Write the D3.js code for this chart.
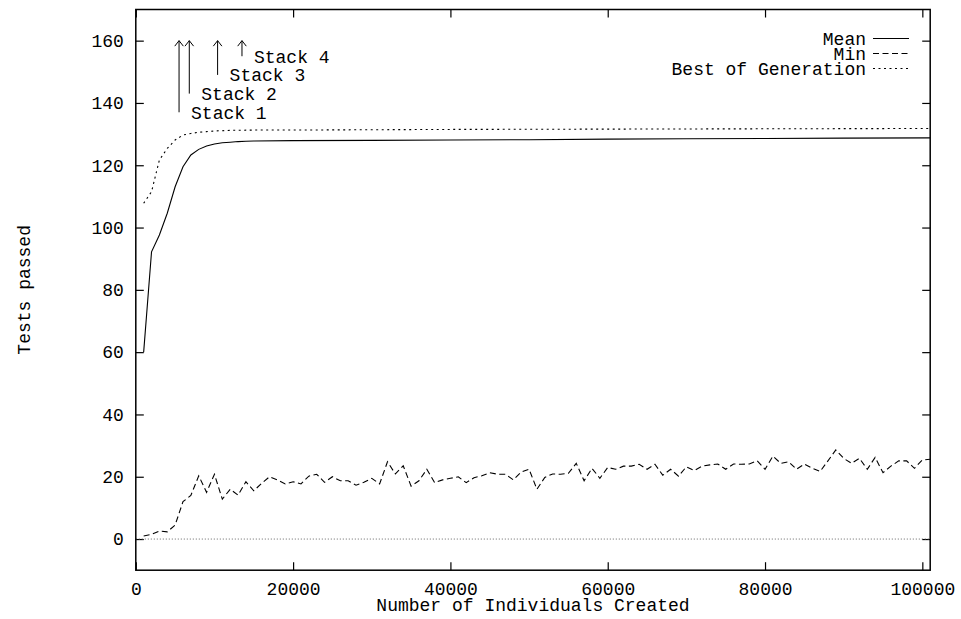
<!DOCTYPE html>
<html>

<head>
    <title>Tests passed</title>
    <meta charset="utf-8">
    <script src="https://d3js.org/d3.v7.min.js"></script>
    <style>
        body { margin: 0; background: white; }
        text { font-family: "Liberation Mono", "DejaVu Sans Mono", monospace; font-size: 18px; fill: #000; }
    </style>
</head>

<body>
    <div id="chart"></div>
</body>

<script>

    // min of population, one point every 1000 individuals (1000 .. 101000)
    let minStart = 1000, minStep = 1000;
    let minValues = [
        1.0, 1.5, 2.6, 2.3, 4.5, 12.0, 14.0, 20.3, 15.0, 20.8,
        12.8, 16.0, 14.1, 18.4, 15.5, 17.9, 20.0, 19.0, 17.7, 18.4,
        17.7, 20.2, 20.8, 18.2, 20.0, 18.7, 18.7, 17.3, 18.2, 19.5,
        17.7, 24.8, 20.9, 23.5, 17.0, 18.7, 22.4, 18.1, 19.0, 19.5,
        20.0, 18.1, 19.7, 20.3, 21.3, 20.8, 20.8, 19.0, 21.5, 22.4,
        16.0, 19.8, 20.9, 20.8, 21.1, 24.3, 18.7, 22.7, 19.5, 23.0,
        22.4, 23.4, 23.4, 24.0, 22.4, 24.0, 20.5, 22.4, 20.2, 23.2,
        22.0, 23.4, 23.8, 24.1, 22.4, 24.1, 24.0, 24.1, 25.1, 22.4,
        26.6, 24.3, 24.8, 22.4, 24.1, 22.7, 21.7, 25.1, 28.6, 25.9,
        24.3, 25.9, 22.4, 26.2, 21.3, 23.4, 25.1, 25.1, 22.7, 25.4,
        25.6
    ];

    let meanX = [1000, 2000, 3000, 4000, 5000, 6000, 7000, 8000, 9000, 10000,
        11000, 12000, 13000, 14000, 15000, 20000, 30000, 40000, 50000, 60000,
        70000, 80000, 90000, 101000];
    let meanValues = [60.0, 92.2, 97.6, 104.6, 113.1, 119.5, 123.3, 125.1, 126.2, 126.8,
        127.2, 127.4, 127.6, 127.7, 127.8, 127.9, 128.0, 128.1, 128.2, 128.4,
        128.5, 128.6, 128.7, 128.8];

    let bestX = [1000, 2000, 3000, 4000, 5000, 6000, 7000, 8000, 9000, 10000,
        12000, 15000, 20000, 30000, 40000, 60000, 80000, 101000];
    let bestValues = [107.8, 111.5, 121.7, 125.4, 128.1, 129.7, 130.2, 130.6, 130.8, 131.0,
        131.2, 131.3, 131.3, 131.4, 131.5, 131.6, 131.7, 131.8];

    // stack markers: arrow from tail up to 160
    let stackNames = ["Stack 1", "Stack 2", "Stack 3", "Stack 4"];
    let stackX = [5500, 6800, 10400, 13500];
    let stackTail = [137, 143, 149, 155];
    let arrowTop = 160;

    let xTicks = [0, 20000, 40000, 60000, 80000, 100000];
    let yTicks = [0, 20, 40, 60, 80, 100, 120, 140, 160];

    let legendNames = ["Mean", "Min", "Best of Generation"];
    let legendDash = ["none", "6,3.5", "2,3.5"];

    let W = 961, H = 619;
    let margin = { left: 135.8, right: 30.8, top: 9.5, bottom: 48.8 };

    let svg = d3.select("#chart")
        .append("svg")
            .attr("width", W)
            .attr("height", H);

    let x = d3.scaleLinear()
        .domain([0, 101000])
        .range([margin.left, W - margin.right]);

    let y = d3.scaleLinear()
        .domain([-10, 170])
        .range([H - margin.bottom, margin.top]);

    // ticks (gnuplot style: inward + mirrored)
    let tickLen = 8;
    let axes = svg.append("g").attr("class", "axes");

    axes.append("g")
        .attr("transform", `translate(0,${y(-10)})`)
        .call(d3.axisBottom(x).tickValues(xTicks).tickSize(-tickLen).tickFormat(d3.format("d")))
        .call(g => g.select(".domain").remove())
        .call(g => g.selectAll("text").attr("y", 19).attr("dy", "0.35em"));

    axes.append("g")
        .attr("transform", `translate(0,${y(170)})`)
        .call(d3.axisTop(x).tickValues(xTicks).tickSize(-tickLen).tickFormat(""))
        .call(g => g.select(".domain").remove());

    axes.append("g")
        .attr("transform", `translate(${x(0)},0)`)
        .call(d3.axisLeft(y).tickValues(yTicks).tickSize(-tickLen).tickFormat(d3.format("d")))
        .call(g => g.select(".domain").remove())
        .call(g => g.selectAll("text").attr("x", -12));

    axes.append("g")
        .attr("transform", `translate(${x(101000)},0)`)
        .call(d3.axisRight(y).tickValues(yTicks).tickSize(-tickLen).tickFormat(""))
        .call(g => g.select(".domain").remove());

    axes.selectAll(".tick line").attr("stroke", "#000").attr("stroke-width", 1.2);
    axes.selectAll("text")
        .attr("font-family", null)
        .attr("font-size", null)
        .style("fill", "#000");

    // zero line
    svg.append("line")
        .attr("x1", x(0)).attr("x2", x(101000))
        .attr("y1", y(0)).attr("y2", y(0))
        .attr("stroke", "#666")
        .attr("stroke-width", 1)
        .attr("stroke-dasharray", "1,2");

    let line = d3.line()
        .x(d => x(d[0]))
        .y(d => y(d[1]));

    let meanData = meanX.map((v, i) => [v, meanValues[i]]);
    let bestData = bestX.map((v, i) => [v, bestValues[i]]);
    let minData = minValues.map((v, i) => [minStart + i * minStep, v]);

    let series = [meanData, minData, bestData];

    svg.append("g")
        .selectAll("path")
        .data(series)
        .join("path")
            .attr("d", d => line(d))
            .attr("fill", "none")
            .attr("stroke", "#000")
            .attr("stroke-width", 1.1)
            .attr("stroke-dasharray", (d, i) => legendDash[i] == "none" ? null : legendDash[i]);

    // frame
    svg.append("rect")
        .attr("x", x(0))
        .attr("y", y(170))
        .attr("width", x(101000) - x(0))
        .attr("height", y(-10) - y(170))
        .attr("fill", "none")
        .attr("stroke", "#000")
        .attr("stroke-width", 1.5);

    // stack arrows + labels
    let stacks = svg.append("g").attr("class", "stacks");
    stackNames.forEach((name, i) => {
        let ax = x(stackX[i]), y0 = y(stackTail[i]), y1 = y(arrowTop);
        stacks.append("line")
            .attr("x1", ax).attr("x2", ax)
            .attr("y1", y0).attr("y2", y1)
            .attr("stroke", "#000").attr("stroke-width", 1);
        stacks.append("path")
            .attr("d", `M${ax - 4.3},${y1 + 5.5}L${ax},${y1}L${ax + 4.3},${y1 + 5.5}`)
            .attr("fill", "none")
            .attr("stroke", "#000").attr("stroke-width", 1);
        stacks.append("text")
            .attr("x", ax + 12)
            .attr("y", y0)
            .attr("dy", "0.35em")
            .text(name);
    });

    // legend
    let legend = svg.append("g").attr("class", "legend");
    let legendY = [38.5, 53.5, 68.5];
    legendNames.forEach((name, i) => {
        legend.append("text")
            .attr("x", 866)
            .attr("y", legendY[i])
            .attr("dy", "0.35em")
            .attr("text-anchor", "end")
            .text(name);
        legend.append("line")
            .attr("x1", 873).attr("x2", 909)
            .attr("y1", legendY[i]).attr("y2", legendY[i])
            .attr("stroke", "#000")
            .attr("stroke-width", 1.1)
            .attr("stroke-dasharray", legendDash[i] == "none" ? null : legendDash[i]);
    });

    // axis titles
    svg.append("text")
        .attr("x", (x(0) + x(101000)) / 2)
        .attr("y", 605)
        .attr("dy", "0.35em")
        .attr("text-anchor", "middle")
        .text("Number of Individuals Created");

    svg.append("text")
        .attr("transform", `translate(24,${(y(-10) + y(170)) / 2}) rotate(-90)`)
        .attr("dy", "0.35em")
        .attr("text-anchor", "middle")
        .text("Tests passed");

</script>

</html>
